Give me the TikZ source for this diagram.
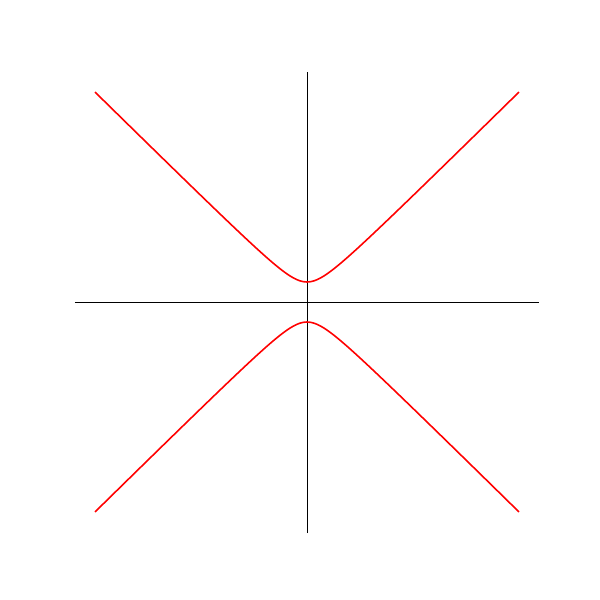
\documentclass[tikz,border=0pt]{standalone}
\begin{document}
\begin{tikzpicture}[
  axis/.style={black, line width=0.5pt},
  branch/.style={red, line width=0.9pt, smooth, samples=121, domain=-4.24:4.24},
]
  \useasboundingbox (-6.14, -5.96) rectangle (5.86, 6.04);

  \coordinate (xl) at (-4.64, 0);
  \coordinate (xr) at (4.64, 0);
  \coordinate (yb) at (0, -4.62);
  \coordinate (yt) at (0, 4.6);

  \draw[axis] (xl) -- (xr);
  \draw[axis] (yb) -- (yt);

  \draw[branch] plot (\x, {sqrt(0.16+0.972*\x*\x)});
  \draw[branch] plot (\x, {-sqrt(0.16+0.972*\x*\x)});
\end{tikzpicture}
\end{document}
